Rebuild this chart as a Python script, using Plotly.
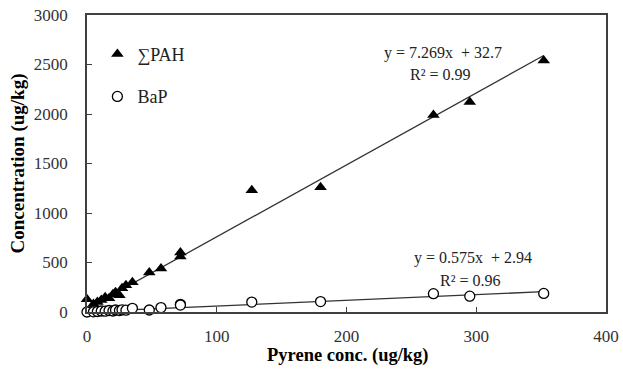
import plotly.graph_objects as go

# Pyrene concentration (ug/kg) for each sample
pyrene = [0, 5, 8, 11, 14, 17, 20, 22, 25, 27, 30, 35, 48, 57, 72, 72, 127, 180, 267, 295, 352]
# Sum of PAH concentration (ug/kg)
sum_pah = [130, 80, 100, 120, 150, 140, 180, 200, 170, 240, 270, 300, 400, 440, 600, 560, 1230, 1260, 1990, 2120, 2540]
# BaP concentration (ug/kg)
bap = [0, 2, 5, 10, 8, 15, 10, 20, 15, 22, 18, 37, 20, 45, 78, 70, 100, 105, 185, 160, 188]

# Linear fit coefficients shown on the chart
pah_slope, pah_intercept, pah_r2 = 7.269, 32.7, 0.99
bap_slope, bap_intercept, bap_r2 = 0.575, 2.94, 0.96

x_title = "Pyrene conc. (ug/kg)"
y_title = "Concentration (ug/kg)"

x_fit = [min(pyrene), max(pyrene)]
pah_fit = [pah_slope * v + pah_intercept for v in x_fit]
bap_fit = [bap_slope * v + bap_intercept for v in x_fit]

FONT = "Liberation Serif, Times New Roman, serif"
AX = "#404040"

fig = go.Figure()
fig.add_trace(go.Scatter(x=x_fit, y=pah_fit, mode="lines", showlegend=False,
                         line=dict(color="#333333", width=1.3), hoverinfo="skip"))
fig.add_trace(go.Scatter(x=x_fit, y=bap_fit, mode="lines", showlegend=False,
                         line=dict(color="#333333", width=1.3), hoverinfo="skip"))
fig.add_trace(go.Scatter(x=pyrene, y=sum_pah, mode="markers", name="∑PAH",
                         legendgroup="a", cliponaxis=False,
                         marker=dict(symbol="triangle-up", size=11, color="black")))
fig.add_trace(go.Scatter(x=pyrene, y=bap, mode="markers", name="BaP",
                         legendgroup="b", cliponaxis=False,
                         marker=dict(symbol="circle", size=10, color="white",
                                     line=dict(color="black", width=1.3))))

ann_font = dict(family=FONT, size=16, color="#222222")
fig.add_annotation(x=274, y=2616, text=f"y = {pah_slope}x  + {pah_intercept}",
                   showarrow=False, font=ann_font, xanchor="center", yanchor="middle")
fig.add_annotation(x=272.5, y=2394, text=f"R² = {pah_r2}",
                   showarrow=False, font=ann_font, xanchor="center", yanchor="middle")
fig.add_annotation(x=297.5, y=545, text=f"y = {bap_slope}x  + {bap_intercept}",
                   showarrow=False, font=ann_font, xanchor="center", yanchor="middle")
fig.add_annotation(x=295.5, y=323, text=f"R² = {bap_r2}",
                   showarrow=False, font=ann_font, xanchor="center", yanchor="middle")
# x-axis title, placed closer to the tick labels than Plotly's axis title allows
fig.add_annotation(x=0.502, y=-0.148, xref="paper", yref="paper",
                   text=f"<b>{x_title}</b>", showarrow=False,
                   xanchor="center", yanchor="middle",
                   font=dict(family=FONT, size=18.5, color="black"))

fig.update_layout(
    width=623, height=378,
    margin=dict(l=87, r=17, t=15, b=66),
    paper_bgcolor="white", plot_bgcolor="white",
    font=dict(family=FONT, size=17, color="#333333"),
    legend=dict(x=0.02, y=0.93, xanchor="left", yanchor="top",
                bgcolor="rgba(0,0,0,0)", tracegroupgap=16,
                font=dict(family=FONT, size=18, color="#222222")),
    xaxis=dict(range=[0, 400], tickvals=[0, 100, 200, 300, 400],
               ticks="inside", ticklen=5, tickcolor=AX, tickwidth=1,
               showline=True, linecolor=AX, linewidth=1.5, mirror=True,
               showgrid=False, zeroline=False, ticklabelstandoff=8,
               automargin=False,
               tickfont=dict(family=FONT, size=17, color="#333333")),
    yaxis=dict(range=[0, 3000], tickvals=[0, 500, 1000, 1500, 2000, 2500, 3000],
               ticks="inside", ticklen=5, tickcolor=AX, tickwidth=1,
               showline=True, linecolor=AX, linewidth=1.5, mirror=True,
               showgrid=False, zeroline=False, ticklabelstandoff=14,
               automargin=False,
               tickfont=dict(family=FONT, size=17, color="#333333"),
               title=dict(text=f"<b>{y_title}</b>", standoff=4,
                          font=dict(family=FONT, size=19, color="black"))),
)

fig.write_html("out.html")
